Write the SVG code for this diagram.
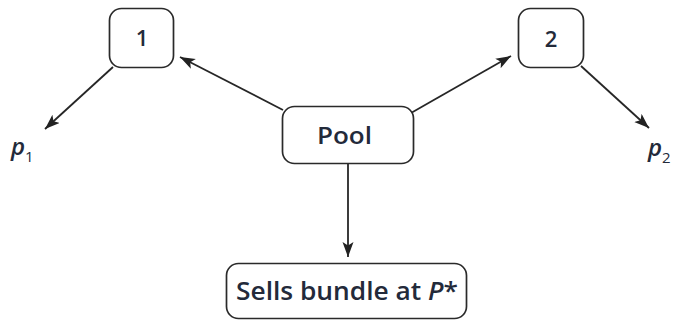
<svg xmlns="http://www.w3.org/2000/svg" width="674" height="322" viewBox="0 0 674 322">
  <style>
    .box { fill: #ffffff; stroke: #2a2a2a; stroke-width: 1.7; }
    .lbl { font-family: "Open Sans", "Liberation Sans", sans-serif; font-weight: 600; fill: #232a3a; text-anchor: middle; }
    .edge { stroke: #262626; stroke-width: 1.8; fill: none; marker-end: url(#arrow); }
    .var { font-family: "Open Sans", "Liberation Sans", sans-serif; font-weight: 600; fill: #232a3a; }
  </style>
  <defs>
    <marker id="arrow" markerUnits="userSpaceOnUse" markerWidth="18" markerHeight="14" refX="15" refY="5.5" orient="auto">
      <path d="M0,0 L15,5.5 L0,11 L3.5,5.5 Z" fill="#222"/>
    </marker>
  </defs>
  <rect width="674" height="322" fill="#ffffff"/>

  <!-- arrows between the nodes -->
  <g id="connectors">
    <line class="edge" x1="283" y1="110" x2="180" y2="57"/>
    <line class="edge" x1="113" y1="67" x2="45" y2="129"/>
    <line class="edge" x1="411" y1="113" x2="511" y2="56"/>
    <line class="edge" x1="581" y1="66" x2="649" y2="128"/>
    <line class="edge" x1="348" y1="164" x2="348" y2="257"/>
  </g>

  <g id="node-1">
    <rect class="box" x="109.5" y="8.5" width="64" height="59" rx="12"/>
    <text class="lbl" x="142" y="46" font-size="22">1</text>
  </g>

  <g id="node-2">
    <rect class="box" x="518.5" y="8.5" width="65" height="59" rx="12"/>
    <text class="lbl" x="551" y="47" font-size="22">2</text>
  </g>

  <g id="node-pool">
    <rect class="box" x="282.5" y="106.5" width="131" height="57" rx="12"/>
    <text class="lbl" x="344.5" y="144" font-size="24" textLength="55" lengthAdjust="spacingAndGlyphs">Pool</text>
  </g>

  <g id="node-sells">
    <rect class="box" x="226.5" y="263.5" width="240" height="55" rx="12"/>
    <text class="lbl" x="347" y="300" font-size="26" textLength="222" lengthAdjust="spacingAndGlyphs">Sells bundle at <tspan font-style="italic">P</tspan>*</text>
  </g>

  <!-- price labels -->
  <g id="label-p1">
    <text class="var" x="11" y="155" font-size="24" font-style="italic">p<tspan font-size="15" font-style="normal" font-weight="400" dy="7">1</tspan></text>
  </g>

  <g id="label-p2">
    <text class="var" x="648" y="156" font-size="24" font-style="italic">p<tspan font-size="15" font-style="normal" font-weight="400" dy="7">2</tspan></text>
  </g>
</svg>
